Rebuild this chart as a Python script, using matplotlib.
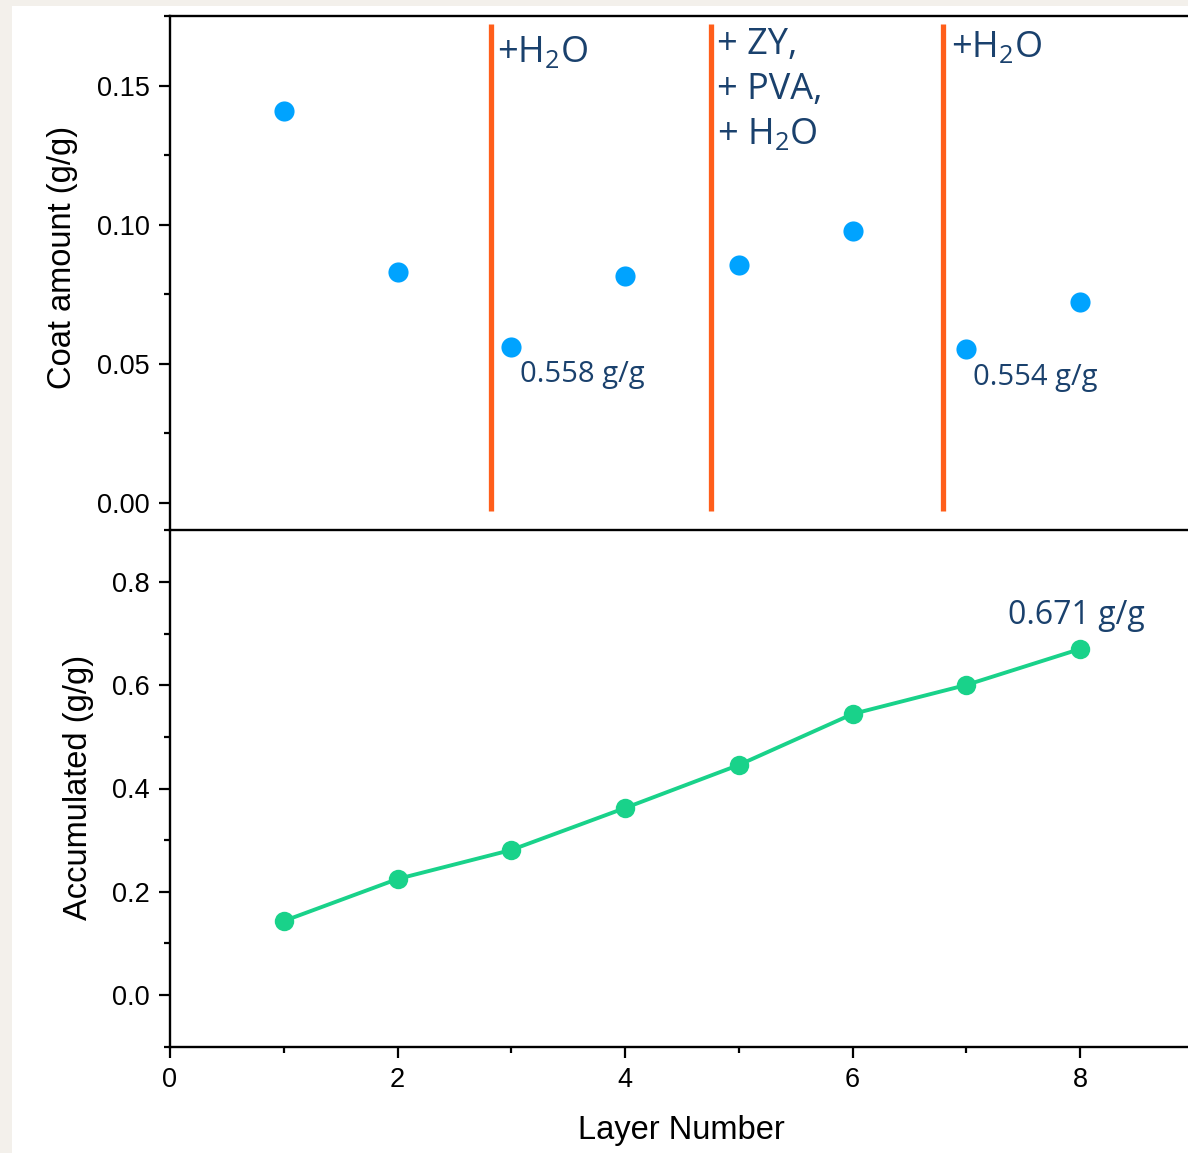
import matplotlib.pyplot as plt
from matplotlib.ticker import MultipleLocator, FormatStrFormatter
from matplotlib.patches import Rectangle

plt.rcParams['font.family'] = ['Liberation Sans', 'DejaVu Sans']
plt.rcParams['mathtext.fontset'] = 'custom'
plt.rcParams['mathtext.rm'] = 'Open Sans'

# data
layers = [1, 2, 3, 4, 5, 6, 7, 8]
coat = [0.1407, 0.0829, 0.0560, 0.0815, 0.0854, 0.0976, 0.0553, 0.0721]
accum = [0.1433, 0.2247, 0.2809, 0.3622, 0.4455, 0.5443, 0.6005, 0.6702]

step_x = [2.825, 4.754, 6.798]
step_labels = [r'+H$\mathregular{_2}$O',
               '+ ZY,\n+ PVA,\n+ H$\\mathregular{_2}$O',
               r'+H$\mathregular{_2}$O']
step_text_x = [2.877, 4.807, 6.868]
step_text_y = [0.1682, 0.1711, 0.1700]

note_top = ['0.558 g/g', '0.554 g/g']
note_top_xy = [(3.079, 0.0460), (7.061, 0.0450)]
note_bot = '0.671 g/g'
note_bot_xy = (7.368, 0.736)

txt_col = '#1a416d'
orange = '#ff5e1a'
blue = '#00a3ff'
green = '#19d28a'

W, H = 1188, 1153
fig = plt.figure(figsize=(W / 100, H / 100), dpi=100)
fig.patch.set_facecolor('#f3f0eb')
bg = Rectangle((12 / W, 0), 1, 1 - 6 / H, transform=fig.transFigure,
               facecolor='white', edgecolor='none', zorder=-10)
fig.add_artist(bg)

left = 170 / W
width = 9 * 113.75 / W
ax1 = fig.add_axes([left, 1 - 530 / H, width, 514 / H])
ax2 = fig.add_axes([left, 1 - 1047 / H, width, 517 / H], sharex=ax1)

for ax in (ax1, ax2):
    ax.set_facecolor('none')
    ax.spines['right'].set_visible(False)
    for s in ax.spines.values():
        s.set_linewidth(1.7)
    ax.tick_params(axis='both', direction='out', width=1.6, length=8,
                   labelsize=19.5, pad=6.5)
    ax.tick_params(which='minor', direction='out', width=1.6, length=4.5)
ax1.spines['bottom'].set_visible(False)
ax1.tick_params(axis='x', which='both', bottom=False, labelbottom=False)

# top panel
ax1.plot(layers, coat, 'o', color=blue, markersize=14.5, markeredgewidth=0, zorder=3)
ax1.vlines(step_x, -0.003, 0.172, color=orange, linewidth=3.8, zorder=2)
for sx, sy, lab in zip(step_text_x, step_text_y, step_labels):
    ax1.text(sx, sy, lab, fontsize=26, color=txt_col, family='Open Sans',
             ha='left', va='top', linespacing=1.34)
for lab, (tx, ty) in zip(note_top, note_top_xy):
    ax1.text(tx, ty, lab, fontsize=21, color=txt_col, family='Open Sans',
             ha='left', va='center')
ax1.set_ylim(-0.0097, 0.175)
ax1.yaxis.set_major_locator(MultipleLocator(0.05))
ax1.yaxis.set_minor_locator(MultipleLocator(0.025))
ax1.yaxis.set_major_formatter(FormatStrFormatter('%.2f'))

# bottom panel
ax2.plot(layers, accum, '-o', color=green, linewidth=2.8, markersize=14,
         markeredgewidth=0, zorder=3)
ax2.text(note_bot_xy[0], note_bot_xy[1], note_bot, fontsize=23, color=txt_col,
         family='Open Sans', ha='left', va='center')
ax2.set_ylim(-0.1007, 0.9007)
ax2.yaxis.set_major_locator(MultipleLocator(0.2))
ax2.yaxis.set_minor_locator(MultipleLocator(0.1))
ax2.yaxis.set_major_formatter(FormatStrFormatter('%.1f'))
ax2.set_xlim(0, 9)
ax2.xaxis.set_major_locator(MultipleLocator(2))
ax2.xaxis.set_minor_locator(MultipleLocator(1))
ax2.set_xlabel('Layer Number', fontsize=23.5, labelpad=16)

fig.text(63 / W, 1 - 257 / H, 'Coat amount (g/g)', rotation=90, fontsize=23.5,
         ha='center', va='center')
fig.text(79 / W, 1 - 787 / H, 'Accumulated (g/g)', rotation=90, fontsize=23.5,
         ha='center', va='center')

fig.savefig('out.png', dpi=100)
